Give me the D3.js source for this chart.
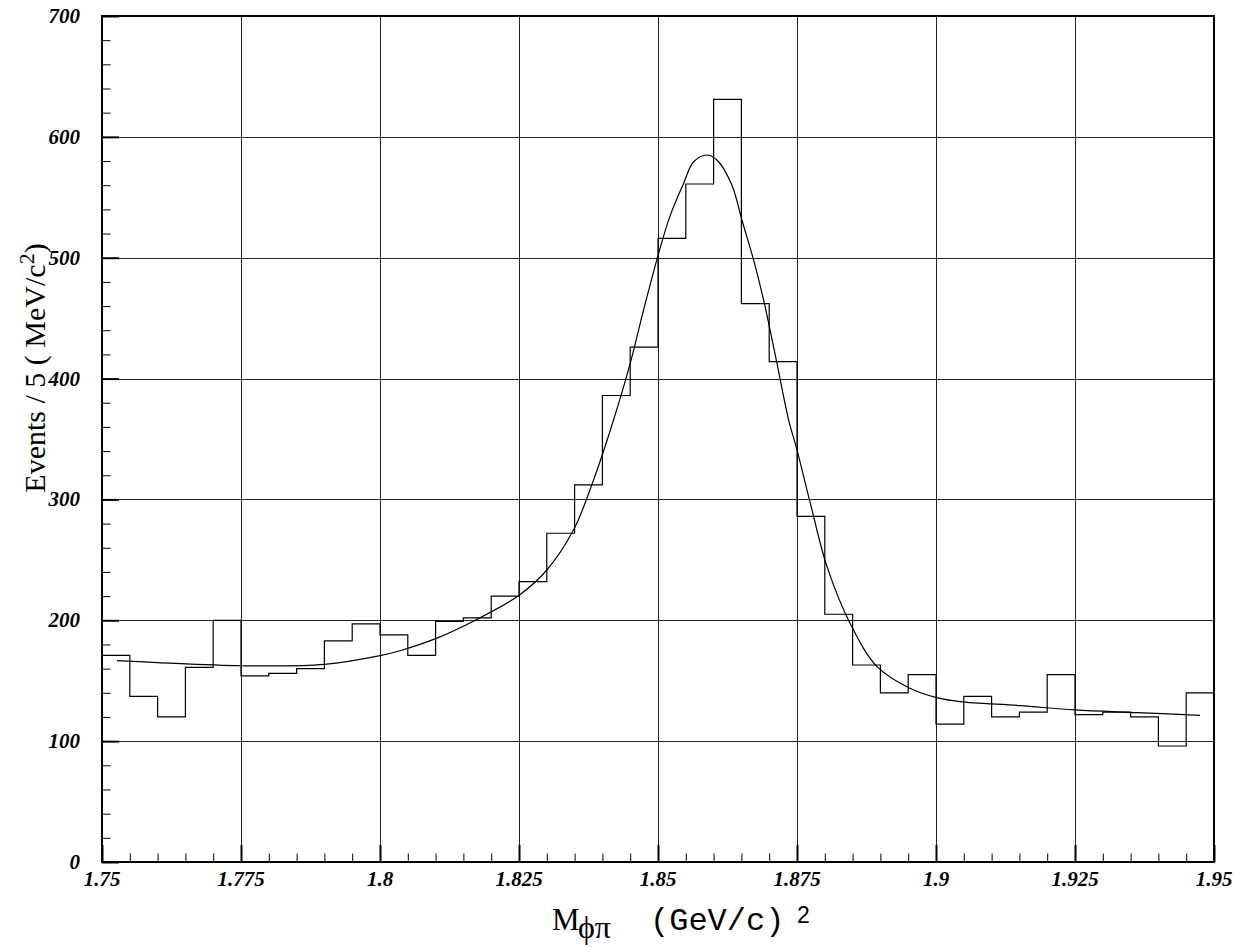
<!DOCTYPE html>
<html>
<head>
<meta charset="utf-8">
<script src="https://cdn.jsdelivr.net/npm/d3@7/dist/d3.min.js"></script>
<style>
    body { margin: 0; background: #fff; }
    text { fill: #000; white-space: pre; }
</style>
</head>
<body>
<svg id="chart" width="1242" height="947"></svg>
<script>
// histogram: 5 MeV bins from 1.75 to 1.95
var binStart = 1.75,
    binWidth = 0.005;

var counts = [171, 137, 120, 161, 200, 154, 156, 160, 183, 197,
              188, 171, 199, 202, 220, 232, 272, 312, 386, 426,
              516, 561, 631, 462, 414, 286, 205, 163, 140, 155,
              114, 137, 120, 124, 155, 122, 124, 120, 96, 140];

// fitted curve
var fitMass = [1.7527, 1.760, 1.775, 1.790, 1.800, 1.8036, 1.8101, 1.8174, 1.8251, 1.830,
               1.8348, 1.8384, 1.842, 1.845, 1.8474, 1.8502, 1.8522, 1.8546, 1.8564, 1.8588,
               1.8606, 1.8633, 1.8651, 1.8672, 1.869, 1.8714, 1.8735, 1.875, 1.8774, 1.8804,
               1.8846, 1.8894, 1.8953, 1.9001, 1.9043, 1.9151, 1.925, 1.9361, 1.9475];
var fitValue = [166.6, 165, 162.4, 163.5, 170.7, 174.8, 185, 200.7, 221, 241.6,
                274.7, 316, 365.7, 412.6, 456.7, 505, 535, 561.5, 579.4, 585,
                580.8, 560, 531, 498, 465, 412.6, 365.7, 341, 296.8, 244.4,
                197, 161.6, 143.7, 136, 132.7, 129.4, 125.8, 123.6, 121.4];

var xTicks = [1.75, 1.775, 1.8, 1.825, 1.85, 1.875, 1.9, 1.925, 1.95];
var xTickLabels = ["1.75", "1.775", "1.8", "1.825", "1.85", "1.875", "1.9", "1.925", "1.95"];
var yTicks = [0, 100, 200, 300, 400, 500, 600, 700];

var svg = d3.select("#chart");

var margin = {top: 16, right: 28, bottom: 85, left: 102},
    width = +svg.attr("width") - margin.left - margin.right,
    height = +svg.attr("height") - margin.top - margin.bottom,
    g = svg.append("g").attr("transform", "translate(" + margin.left + "," + margin.top + ")");

var x = d3.scaleLinear().domain([1.75, 1.95]).range([0, width]);
var y = d3.scaleLinear().domain([0, 700]).range([height, 0]);

// grid
g.append("g")
    .selectAll("line")
    .data(xTicks)
    .enter().append("line")
    .attr("x1", function (d) { return Math.round(x(d)) + 0.5; })
    .attr("x2", function (d) { return Math.round(x(d)) + 0.5; })
    .attr("y1", 0)
    .attr("y2", height)
    .attr("stroke", "#222")
    .attr("stroke-width", 1);

g.append("g")
    .selectAll("line")
    .data(yTicks)
    .enter().append("line")
    .attr("x1", 0)
    .attr("x2", width)
    .attr("y1", function (d) { return Math.round(y(d)) + 0.5; })
    .attr("y2", function (d) { return Math.round(y(d)) + 0.5; })
    .attr("stroke", "#222")
    .attr("stroke-width", 1);

// axes with minor ticks
var axisY = d3.axisLeft(y)
    .tickValues(d3.range(0, 701, 20))
    .tickSize(0)
    .tickFormat("");

var yAxis = g.append("g").call(axisY);
yAxis.select(".domain").remove();
yAxis.selectAll(".tick line")
    .attr("x2", function (d) { return d % 100 === 0 ? 17 : 8.5; })
    .attr("stroke", "#000")
    .attr("stroke-width", function (d) { return d % 100 === 0 ? 2 : 1; });

var axisX = d3.axisBottom(x)
    .tickValues(d3.range(0, 41).map(function (i) { return binStart + i * binWidth; }))
    .tickSize(0)
    .tickFormat("");

var xAxis = g.append("g")
    .attr("transform", "translate(0," + height + ")")
    .call(axisX);
xAxis.select(".domain").remove();
xAxis.selectAll(".tick line")
    .attr("y2", function (d, i) { return i % 5 === 0 ? -17 : -8.5; })
    .attr("stroke", "#000")
    .attr("stroke-width", function (d, i) { return i % 5 === 0 ? 2 : 1; });

// tick labels
g.append("g")
    .selectAll("text")
    .data(yTicks)
    .enter().append("text")
    .attr("x", -22)
    .attr("y", function (d) { return y(d) + 7; })
    .attr("text-anchor", "end")
    .style("font", "italic bold 21px 'Liberation Serif', serif")
    .text(function (d) { return d; });

g.append("g")
    .selectAll("text")
    .data(xTicks)
    .enter().append("text")
    .attr("x", function (d) { return x(d); })
    .attr("y", height + 24)
    .attr("text-anchor", "middle")
    .style("font", "italic bold 21px 'Liberation Serif', serif")
    .text(function (d, i) { return xTickLabels[i]; });

// histogram outline
var hist = counts.map(function (c, i) { return {x: binStart + i * binWidth, v: c}; });
hist.push({x: binStart + counts.length * binWidth, v: counts[counts.length - 1]});

var step = d3.line()
    .curve(d3.curveStepAfter)
    .x(function (d) { return x(d.x); })
    .y(function (d) { return y(d.v); });

g.append("path")
    .datum(hist)
    .attr("fill", "none")
    .attr("stroke", "#000")
    .attr("stroke-width", 1.2)
    .attr("d", step);

// fit
var fit = fitMass.map(function (m, i) { return {x: m, v: fitValue[i]}; });

var fitLine = d3.line()
    .curve(d3.curveCatmullRom.alpha(0.5))
    .x(function (d) { return x(d.x); })
    .y(function (d) { return y(d.v); });

g.append("path")
    .datum(fit)
    .attr("fill", "none")
    .attr("stroke", "#000")
    .attr("stroke-width", 1.2)
    .attr("d", fitLine);

// frame
g.append("rect")
    .attr("x", 0)
    .attr("y", 0)
    .attr("width", width)
    .attr("height", height)
    .attr("fill", "none")
    .attr("stroke", "#000")
    .attr("stroke-width", 2);

// axis titles
var xt = svg.append("g");
xt.append("text")
    .attr("x", 552).attr("y", 930)
    .style("font", "31px 'Liberation Serif', serif")
    .text("M");
xt.append("text")
    .attr("x", 578).attr("y", 938)
    .style("font", "32px 'Liberation Serif', serif")
    .text("ϕπ");
xt.append("text")
    .attr("x", 650).attr("y", 930)
    .style("font", "32px 'Liberation Mono', monospace")
    .text("(GeV/c)");
xt.append("text")
    .attr("x", 797).attr("y", 923)
    .style("font", "23px 'Liberation Sans', sans-serif")
    .text("2");

var yt = svg.append("text")
    .attr("transform", "translate(45,368) rotate(-90)")
    .attr("text-anchor", "middle")
    .style("font", "30px 'Liberation Serif', serif");
yt.append("tspan").text("Events\u00a0/\u00a05\u00a0(\u00a0MeV/c");
yt.append("tspan").attr("dy", -11).style("font-size", "22px").text("2");
yt.append("tspan").attr("dy", 11).text(")");
</script>
</body>
</html>
